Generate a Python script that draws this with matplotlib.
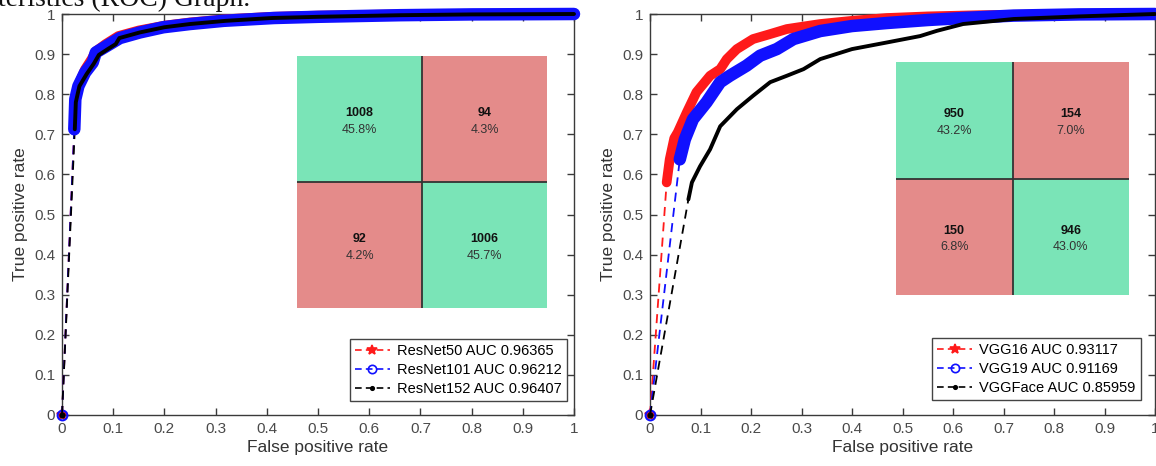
import matplotlib
matplotlib.use("Agg")
import matplotlib.pyplot as plt
from matplotlib.lines import Line2D
import numpy as np

# ---------------- data ----------------
resnet50_fpr = [0, 0.024, 0.027, 0.033, 0.045, 0.058, 0.066, 0.085, 0.11, 0.15, 0.2, 0.25, 0.32, 0.41, 0.5, 0.66, 0.8, 1.0]
resnet50_tpr = [0, 0.715, 0.79, 0.826, 0.862, 0.888, 0.907, 0.925, 0.945, 0.959, 0.971, 0.979, 0.987, 0.993, 0.996, 0.999, 1.0, 1.0]
resnet101_fpr = [0, 0.024, 0.026, 0.032, 0.045, 0.06, 0.066, 0.087, 0.113, 0.152, 0.198, 0.25, 0.316, 0.414, 0.5, 0.66, 0.8, 1.0]
resnet101_tpr = [0, 0.7125, 0.7875, 0.82, 0.854, 0.879, 0.904, 0.92, 0.94, 0.954, 0.967, 0.975, 0.983, 0.99, 0.993, 0.997, 0.999, 1.0]
resnet152_fpr = [0, 0.025, 0.027, 0.034, 0.048, 0.062, 0.072, 0.09, 0.105, 0.112, 0.152, 0.2, 0.25, 0.32, 0.41, 0.5, 0.66, 0.8, 1.0]
resnet152_tpr = [0, 0.7125, 0.78, 0.82, 0.85, 0.876, 0.898, 0.913, 0.925, 0.94, 0.954, 0.967, 0.975, 0.983, 0.99, 0.993, 0.997, 0.999, 1.0]

vgg16_fpr = [0, 0.033, 0.039, 0.048, 0.055, 0.073, 0.092, 0.119, 0.139, 0.152, 0.172, 0.204, 0.238, 0.271, 0.337, 0.40, 0.469, 0.55, 0.65, 0.8, 1.0]
vgg16_tpr = [0, 0.58, 0.6375, 0.69, 0.705, 0.755, 0.805, 0.846, 0.8625, 0.8875, 0.9125, 0.9375, 0.95, 0.9625, 0.975, 0.983, 0.99, 0.994, 0.997, 0.999, 1.0]
vgg19_fpr = [0, 0.059, 0.069, 0.085, 0.112, 0.139, 0.158, 0.191, 0.218, 0.251, 0.284, 0.337, 0.40, 0.469, 0.55, 0.62, 0.72, 0.85, 1.0]
vgg19_tpr = [0, 0.6375, 0.6875, 0.7375, 0.78, 0.83, 0.846, 0.871, 0.896, 0.9125, 0.9375, 0.9575, 0.97, 0.9775, 0.985, 0.99, 0.996, 0.999, 1.0]
vggface_fpr = [0, 0.076, 0.083, 0.099, 0.119, 0.139, 0.172, 0.204, 0.238, 0.271, 0.304, 0.337, 0.40, 0.469, 0.535, 0.568, 0.62, 0.72, 0.85, 1.0]
vggface_tpr = [0, 0.5375, 0.58, 0.62, 0.6625, 0.72, 0.7625, 0.796, 0.83, 0.846, 0.8625, 0.8875, 0.9125, 0.929, 0.945, 0.958, 0.975, 0.9875, 0.994, 1.0]

left_labels = ["ResNet50 AUC 0.96365", "ResNet101 AUC 0.96212", "ResNet152 AUC 0.96407"]
right_labels = ["VGG16 AUC 0.93117", "VGG19 AUC 0.91169", "VGGFace AUC 0.85959"]

left_cm_counts = [[1008, 94], [92, 1006]]
left_cm_pct = [[45.8, 4.3], [4.2, 45.7]]
right_cm_counts = [[950, 154], [150, 946]]
right_cm_pct = [[43.2, 7.0], [6.8, 43.0]]

tick_values = [0, 0.1, 0.2, 0.3, 0.4, 0.5, 0.6, 0.7, 0.8, 0.9, 1]
tick_labels = ["0", "0.1", "0.2", "0.3", "0.4", "0.5", "0.6", "0.7", "0.8", "0.9", "1"]
title_fragment = "teristics (ROC) Graph."

# ---------------- style ----------------
plt.rcParams['font.family'] = ['Liberation Sans', 'DejaVu Sans']
W, H = 1156, 466
fig = plt.figure(figsize=(W / 100, H / 100), dpi=100)

GREEN = '#7ae4b7'
RED = '#e48b8a'
AX_COL = '#3a3a3a'
LBL_COL = '#4a4a4a'

styles = [
    dict(color='#ff1a1a', marker='*', ms=8, mfc='#ff1a1a', band=7.0),
    dict(color='#1010ff', marker='o', ms=7, mfc='none', band=9.0),
    dict(color='#000000', marker='.', ms=6, mfc='#000000', band=2.8),
]


def px_axes(x0, x1, ytop, ybot):
    return [x0 / W, 1 - ybot / H, (x1 - x0) / W, (ybot - ytop) / H]


def roc_axes(rect, curves, labels, legend_anchor):
    ax = fig.add_axes(rect)
    for (fpr, tpr), st in zip(curves, styles):
        # sparse (dashed) connection including origin marker
        ax.plot(fpr[:2], tpr[:2], linestyle=(0, (5, 3.5)), lw=1.3, color=st['color'],
                marker=st['marker'], markevery=[0], ms=st['ms'], mfc=st['mfc'],
                mec=st['color'], mew=1.5, clip_on=False, zorder=3)
    for (fpr, tpr), st in zip(curves, styles):
        # dense part of the curve where the markers overlap into a band
        ax.plot(fpr[1:], tpr[1:], '-', lw=st['band'], color=st['color'],
                solid_capstyle='round', solid_joinstyle='round', clip_on=False, zorder=4)
    ax.set_xlim(0, 1)
    ax.set_ylim(0, 1)
    ax.set_xticks(tick_values)
    ax.set_xticklabels(tick_labels)
    ax.set_yticks(tick_values)
    ax.set_yticklabels(tick_labels)
    ax.tick_params(direction='in', length=5, width=1, colors=AX_COL, labelcolor=LBL_COL,
                   labelsize=11, top=True, right=True, pad=5)
    for s in ax.spines.values():
        s.set_color(AX_COL)
        s.set_linewidth(1.0)
    ax.set_xlabel('False positive rate', fontsize=12.5, color='#333333', labelpad=3)
    ax.set_ylabel('True positive rate', fontsize=12.5, color='#333333', labelpad=4)
    handles = [Line2D([], [], linestyle=(0, (4, 2.5)), lw=1.2, color=st['color'], marker=st['marker'],
                      ms=st['ms'] - 1, mfc=st['mfc'], mec=st['color'], mew=1.2) for st in styles]
    leg = ax.legend(handles, labels, loc='lower right', bbox_to_anchor=legend_anchor,
                    fontsize=10.5, frameon=True, fancybox=False, framealpha=1,
                    edgecolor='#444444', handlelength=2.4, handletextpad=0.5,
                    labelspacing=0.35, borderpad=0.35, borderaxespad=0)
    leg.get_frame().set_linewidth(1.0)
    leg.set_zorder(10)
    return ax


def confusion(rect, counts, pct):
    ax = fig.add_axes(rect)
    counts = np.array(counts)
    n = counts.shape[0]
    for i in range(n):
        for j in range(n):
            col = GREEN if i == j else RED
            ax.add_patch(plt.Rectangle((j, n - 1 - i), 1, 1, facecolor=col, edgecolor='none'))
            ax.text(j + 0.5, n - 1 - i + 0.55, str(counts[i][j]), ha='center', va='center',
                    fontsize=9, fontweight='bold', color='#111111')
            ax.text(j + 0.5, n - 1 - i + 0.41, f"{pct[i][j]:.1f}%", ha='center', va='center',
                    fontsize=9, color='#333333')
    ax.axhline(1, color='#333333', lw=1.3)
    ax.axvline(1, color='#333333', lw=1.3)
    ax.set_xlim(0, n)
    ax.set_ylim(0, n)
    ax.set_xticks([])
    ax.set_yticks([])
    for s in ax.spines.values():
        s.set_visible(False)
    return ax


roc_axes(px_axes(62, 574, 14, 415),
         [(resnet50_fpr, resnet50_tpr), (resnet101_fpr, resnet101_tpr), (resnet152_fpr, resnet152_tpr)],
         left_labels, (0.986, 0.035))
roc_axes(px_axes(650, 1155, 14, 415),
         [(vgg16_fpr, vgg16_tpr), (vgg19_fpr, vgg19_tpr), (vggface_fpr, vggface_tpr)],
         right_labels, (0.972, 0.037))

confusion(px_axes(297, 547, 56, 308), left_cm_counts, left_cm_pct)
confusion(px_axes(896, 1129, 62, 295), right_cm_counts, right_cm_pct)

fig.text(-2 / W, 1 - 6 / H, title_fragment, family=['Liberation Serif', 'DejaVu Serif'],
         fontsize=20, va='baseline', ha='left', color='#111111')

fig.savefig('out.png', dpi=100)
